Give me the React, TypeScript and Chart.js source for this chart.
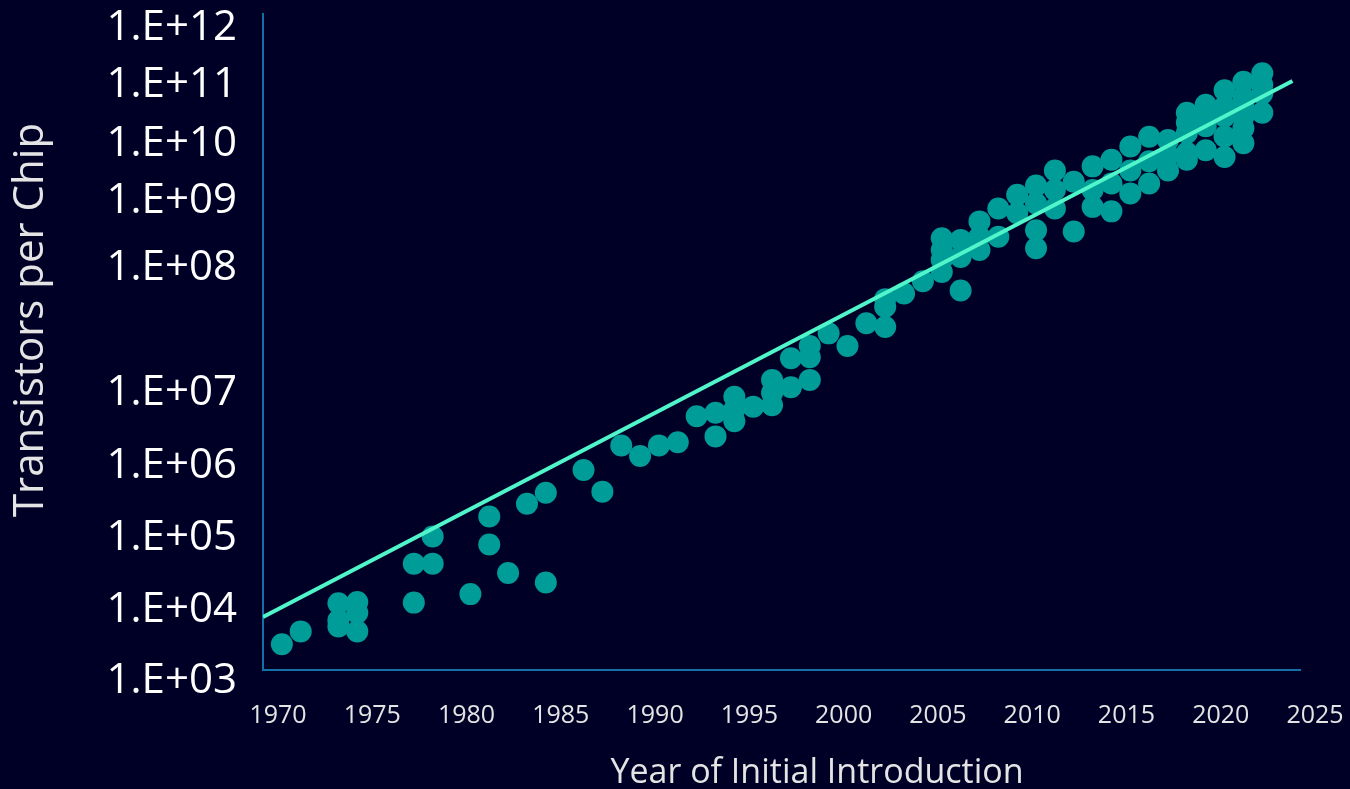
import React, { useEffect, useRef } from 'react';
import { Chart, registerables, LinearScale } from 'chart.js';

Chart.register(...registerables);

// ---------- data ----------
const YEARS: number[] = [
  1971, 1972, 1974, 1974, 1974, 1975, 1975, 1975, 1978, 1978,
  1979, 1979, 1981, 1982, 1982, 1983, 1984, 1985, 1985, 1987,
  1988, 1989, 1990, 1991, 1992, 1993, 1994, 1994, 1995, 1995,
  1995, 1996, 1997, 1997, 1997, 1998, 1998, 1999, 1999, 1999,
  2000, 2001, 2002, 2003, 2003, 2003, 2004, 2005, 2006, 2006,
  2006, 2006, 2007, 2007, 2007, 2008, 2008, 2008, 2009, 2009,
  2010, 2010, 2011, 2011, 2011, 2011, 2012, 2012, 2012, 2013,
  2013, 2014, 2014, 2014, 2015, 2015, 2015, 2016, 2016, 2016,
  2017, 2017, 2017, 2018, 2018, 2018, 2019, 2019, 2019, 2019,
  2020, 2020, 2020, 2021, 2021, 2021, 2021, 2022, 2022, 2022,
  2022, 2023, 2023, 2023, 2019, 2020, 2021, 2022, 2022, 2023,
];

const TRANSISTORS: number[] = [
  2.3e3, 3.5e3, 8.7e3, 5.0e3, 4.1e3, 3.5e3, 9.1e3, 6.4e3, 8.9e3, 3.1e4,
  3.1e4, 7.4e4, 1.17e4, 1.4e5, 5.7e4, 2.3e4, 2.1e5, 3.0e5, 1.7e4, 6.2e5,
  3.1e5, 1.35e6, 9.7e5, 1.35e6, 1.5e6, 3.4e6, 3.8e6, 1.8e6, 6.3e6, 4.2e6,
  2.9e6, 4.6e6, 1.04e7, 7.1e6, 4.8e6, 8.5e6, 1.55e7, 1.04e7, 1.94e7, 1.58e7,
  2.45e7, 1.94e7, 2.95e7, 2.75e7, 4.0e7, 4.6e7, 5.1e7, 6.4e7, 1.9e8, 1.27e8,
  9.5e7, 7.6e7, 5.4e7, 1.0e8, 1.8e8, 1.27e8, 3.4e8, 2.0e8, 5.3e8, 2.0e8,
  8.5e8, 4.5e8, 1.2e9, 6.3e8, 2.5e8, 1.35e8, 2.2e9, 1.0e9, 5.3e8, 1.4e9,
  2.4e8, 2.6e9, 1.0e9, 5.6e8, 3.4e9, 1.3e9, 4.8e8, 5.8e9, 2.2e9, 8.9e8,
  8.6e9, 3.2e9, 1.3e9, 7.5e9, 4.1e9, 2.2e9, 2.2e10, 1.0e10, 4.5e9, 3.4e9,
  3.0e10, 1.3e10, 5.0e9, 5.3e10, 1.9e10, 8.7e9, 3.8e9, 7.4e10, 4.0e10, 1.9e10,
  6.6e9, 1.03e11, 4.7e10, 2.2e10, 1.5e10, 1.9e10, 2.8e10, 1.2e10, 2.8e10, 6.5e10,
];

const TREND_YEARS: number[] = [1970, 2024.6];
const TREND_VALUES: number[] = [5.6e3, 7.6e10];

const Y_TICKS: number[] = [1e3, 1e4, 1e5, 1e6, 1e7, 1e8, 1e9, 1e10, 1e11, 1e12];
const Y_TICK_LABELS: string[] = [
  '1.E+03', '1.E+04', '1.E+05', '1.E+06', '1.E+07',
  '1.E+08', '1.E+09', '1.E+10', '1.E+11', '1.E+12',
];

const X_TITLE = 'Year of Initial Introduction';
const Y_TITLE = 'Transistors per Chip';

// ---------- axis layout (the original's decades are not evenly spaced) ----------
const DECADE_EXPONENTS = [3, 4, 5, 6, 7, 8, 9, 10, 11, 12, 12.05];
const DECADE_FRACTIONS = [0, 0.1082, 0.218, 0.3277, 0.439, 0.6296, 0.7317, 0.8186, 0.9085, 0.9954, 1];

function interp(v: number, from: number[], to: number[]): number {
  const n = from.length;
  let i = 0;
  while (i < n - 2 && v > from[i + 1]) i++;
  const t = (v - from[i]) / (from[i + 1] - from[i]);
  return to[i] + t * (to[i + 1] - to[i]);
}

class WarpedLogScale extends LinearScale {
  static id = 'warpedLog';
  static defaults = {};
  buildTicks() {
    return Y_TICKS.map((value) => ({ value }));
  }
  getPixelForValue(value: number) {
    if (value === null || value === undefined || !(value > 0)) return NaN;
    return this.getPixelForDecimal(interp(Math.log10(value), DECADE_EXPONENTS, DECADE_FRACTIONS));
  }
  getValueForPixel(pixel: number) {
    return Math.pow(10, interp(this.getDecimalForPixel(pixel), DECADE_FRACTIONS, DECADE_EXPONENTS));
  }
}
Chart.register(WarpedLogScale as any);

// ---------- styles ----------
const BG = '#000027';
const AXIS_COLOR = '#1170a6';
const POINT_COLOR = '#009c98';
const TREND_COLOR = '#50f5c9';
const TEXT_COLOR = '#ffffff';
const LABEL_COLOR = '#e4e4e4';
const FONT = "'Open Sans', 'Noto Sans', sans-serif";

const axisTitlePlugin = {
  id: 'axisTitles',
  afterDraw(chart: any) {
    const { ctx, chartArea } = chart;
    ctx.save();
    ctx.fillStyle = LABEL_COLOR;
    ctx.textAlign = 'center';
    ctx.font = `34px ${FONT}`;
    ctx.textBaseline = 'alphabetic';
    ctx.fillText(X_TITLE, chartArea.left + 554, chartArea.bottom + 113);
    ctx.translate(31, chartArea.top + 306);
    ctx.rotate(-Math.PI / 2);
    ctx.font = `42px ${FONT}`;
    ctx.textBaseline = 'middle';
    ctx.fillText(Y_TITLE, 0, 0);
    ctx.restore();
  },
};

export default function App() {
  const ref = useRef<HTMLCanvasElement>(null);

  useEffect(() => {
    document.body.style.margin = '0';
    document.body.style.background = BG;
    const scatterData = YEARS.map((x, i) => ({ x, y: TRANSISTORS[i] }));
    const trendData = TREND_YEARS.map((x, i) => ({ x, y: TREND_VALUES[i] }));

    const chart = new Chart(ref.current as HTMLCanvasElement, {
      type: 'scatter',
      data: {
        datasets: [
          {
            label: 'Trend',
            data: trendData,
            showLine: true,
            borderColor: TREND_COLOR,
            borderWidth: 4,
            pointRadius: 0,
            order: 0,
          } as any,
          {
            label: 'Chips',
            data: scatterData,
            backgroundColor: POINT_COLOR,
            borderWidth: 0,
            pointRadius: 11,
            order: 1,
          },
        ],
      },
      options: {
        animation: false,
        responsive: false,
        layout: { padding: { top: 14, right: 50, bottom: 0, left: 0 } },
        plugins: {
          legend: { display: false },
          tooltip: { enabled: false },
        },
        scales: {
          x: {
            type: 'linear',
            position: 'bottom',
            min: 1970,
            max: 2025,
            ticks: {
              stepSize: 5,
              autoSkip: false,
              maxRotation: 0,
              color: LABEL_COLOR,
              font: { family: FONT, size: 25 },
              padding: 31,
              labelOffset: 15,
              callback: (v: any) => String(v),
            },
            grid: { display: false, drawTicks: false },
            border: { display: true, color: AXIS_COLOR, width: 2 },
            afterFit: (s: any) => {
              s.height = 119;
              s.paddingLeft = 0;
              s.paddingRight = 0;
            },
          },
          y: {
            type: 'warpedLog' as any,
            position: 'left',
            min: 1e3,
            max: 1.122e12,
            ticks: {
              autoSkip: false,
              color: TEXT_COLOR,
              font: { family: FONT, size: 42 },
              padding: 26,
              labelOffset: 11,
              callback: (_v: any, i: number) => Y_TICK_LABELS[i],
            },
            grid: { display: false, drawTicks: false },
            border: { display: true, color: AXIS_COLOR, width: 2 },
            afterFit: (s: any) => {
              s.width = 263;
              s.paddingTop = 0;
              s.paddingBottom = 0;
            },
          } as any,
        },
      },
      plugins: [axisTitlePlugin],
    });
    return () => chart.destroy();
  }, []);

  return (
    <div style={{ position: 'fixed', left: 0, top: 0, width: 1350, height: 789, background: BG }}>
      <canvas ref={ref} width={1350} height={789} style={{ display: 'block' }} />
    </div>
  );
}
